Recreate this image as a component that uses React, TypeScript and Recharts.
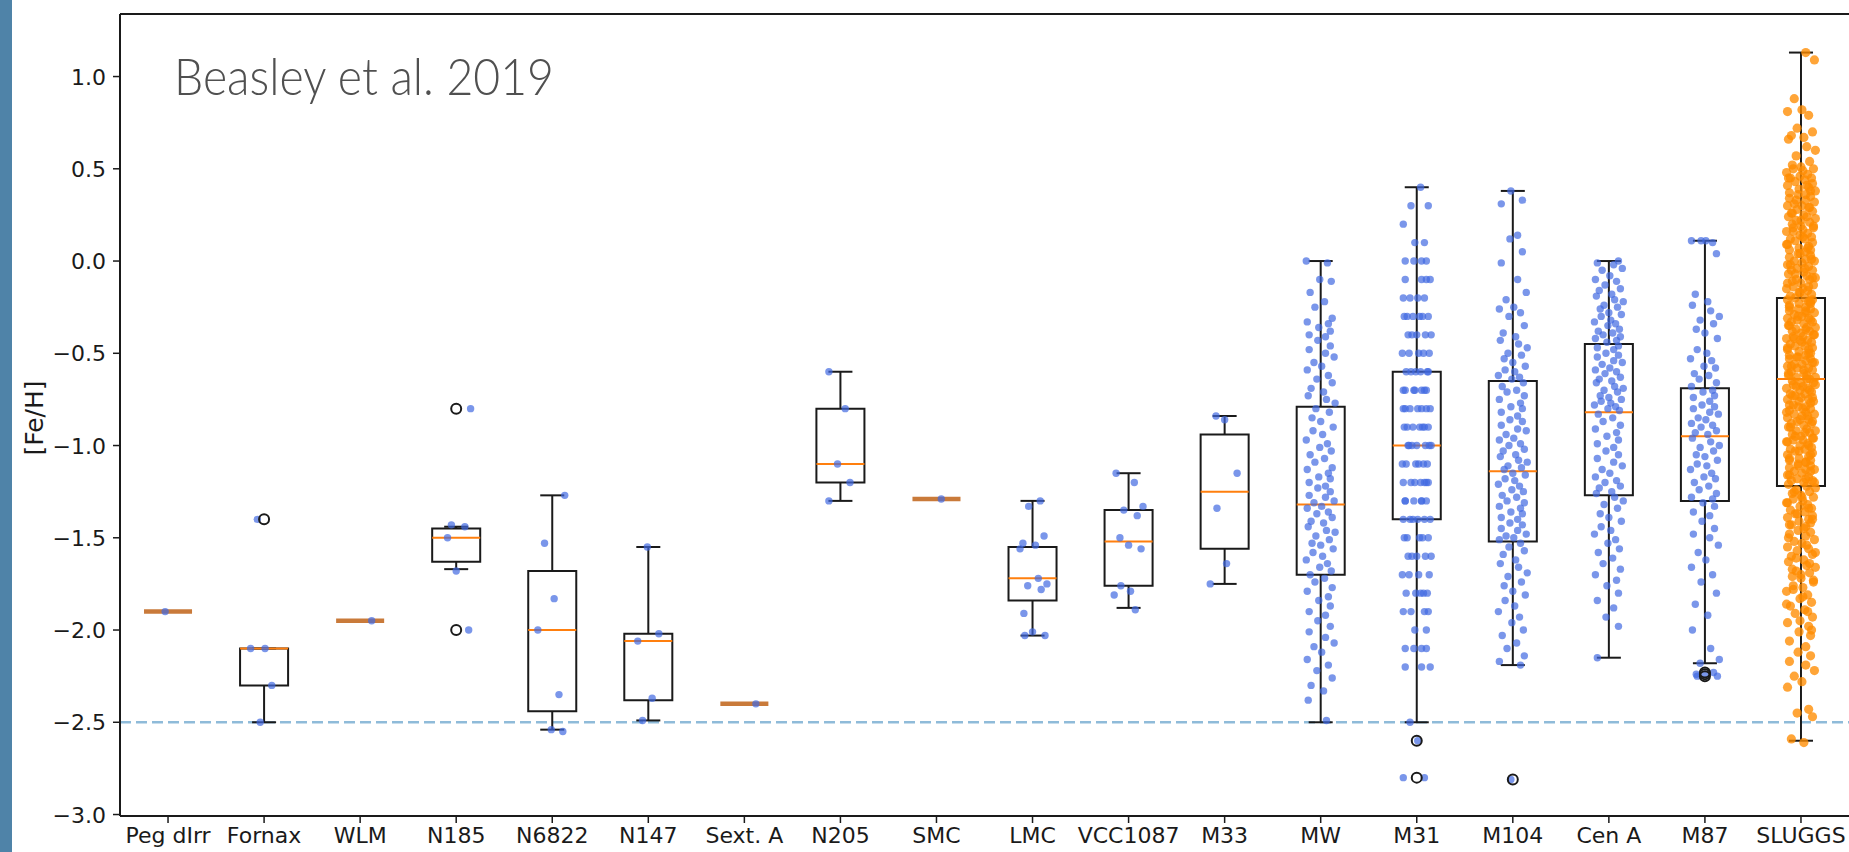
import React from "react";
import {
  ComposedChart,
  Scatter,
  XAxis,
  YAxis,
  ReferenceLine,
  ReferenceArea,
} from "recharts";

const CATEGORIES = [
  "Peg dIrr", "Fornax", "WLM", "N185", "N6822", "N147", "Sext. A", "N205", "SMC",
  "LMC", "VCC1087", "M33", "MW", "M31", "M104", "Cen A", "M87", "SLUGGS",
];
const POSITIONS = CATEGORIES.map((_, i) => i + 1);

const Y_MIN = -3.008;
const Y_MAX = 1.339;
const Y_TICKS = [-3.0, -2.5, -2.0, -1.5, -1.0, -0.5, 0.0, 0.5, 1.0];
const METAL_POOR_LIMIT = -2.5;

// box statistics per system
const WHISKER_LO = [-1.9, -2.5, -1.95, -1.67, -2.54, -2.49, -2.4, -1.3, -1.29, -2.03, -1.88, -1.75, -2.5, -2.5, -2.19, -2.15, -2.18, -2.6];
const Q1 = [-1.9, -2.3, -1.95, -1.63, -2.44, -2.38, -2.4, -1.2, -1.29, -1.84, -1.76, -1.56, -1.7, -1.4, -1.52, -1.27, -1.3, -1.22];
const MEDIAN = [-1.9, -2.1, -1.95, -1.5, -2.0, -2.06, -2.4, -1.1, -1.29, -1.72, -1.52, -1.25, -1.32, -1.0, -1.14, -0.82, -0.95, -0.64];
const Q3 = [-1.9, -2.1, -1.95, -1.45, -1.68, -2.02, -2.4, -0.8, -1.29, -1.55, -1.35, -0.94, -0.79, -0.6, -0.65, -0.45, -0.69, -0.2];
const WHISKER_HI = [-1.9, -2.1, -1.95, -1.44, -1.27, -1.55, -2.4, -0.6, -1.29, -1.3, -1.15, -0.84, 0.0, 0.4, 0.38, 0.0, 0.11, 1.13];

// fliers
const OUTLIER_CAT = ["Fornax", "N185", "N185", "M31", "M31", "M104", "M87", "M87", "M87"];
const OUTLIER_VAL = [-1.4, -0.8, -2.0, -2.6, -2.8, -2.81, -2.23, -2.24, -2.25];

// individual cluster metallicities
const PEG_DIRR = [-1.9];
const FORNAX = [-1.4, -2.1, -2.1, -2.3, -2.5];
const WLM = [-1.95];
const N185 = [-0.8, -1.43, -1.44, -1.5, -1.68, -2.0];
const N6822 = [-1.27, -1.53, -1.83, -2.0, -2.35, -2.54, -2.55];
const N147 = [-1.55, -2.02, -2.06, -2.37, -2.49];
const SEXT_A = [-2.4];
const N205 = [-0.6, -0.8, -1.1, -1.2, -1.3];
const SMC = [-1.29];
const LMC = [-1.3, -1.33, -1.49, -1.53, -1.54, -1.56, -1.72, -1.75, -1.76, -1.78, -1.91, -2.01, -2.03, -2.03];
const VCC1087 = [-1.15, -1.2, -1.33, -1.35, -1.38, -1.5, -1.54, -1.56, -1.76, -1.79, -1.81, -1.89];
const M33 = [-0.84, -0.86, -1.15, -1.34, -1.64, -1.75];

const MW = [
  0.0, -0.01, -0.1, -0.11, -0.17, -0.22, -0.25, -0.31, -0.33, -0.34, -0.36, -0.38, -0.4, -0.41, -0.43,
  -0.46, -0.48, -0.5, -0.52, -0.55, -0.57, -0.59, -0.62, -0.64, -0.66, -0.69, -0.71, -0.73, -0.75, -0.77,
  -0.8, -0.82, -0.85, -0.87, -0.9, -0.92, -0.94, -0.97, -0.99, -1.01, -1.03, -1.05, -1.07, -1.09, -1.12,
  -1.13, -1.15, -1.17, -1.18, -1.2, -1.22, -1.23, -1.25, -1.27, -1.28, -1.3, -1.31, -1.33, -1.34,
  -1.36, -1.37, -1.39, -1.41, -1.42, -1.44, -1.46, -1.47, -1.49, -1.51, -1.53, -1.54, -1.56, -1.58,
  -1.6, -1.62, -1.64, -1.66, -1.68, -1.7, -1.72, -1.74, -1.77, -1.79, -1.82, -1.84, -1.87, -1.9,
  -1.92, -1.95, -1.98, -2.01, -2.04, -2.07, -2.09, -2.12, -2.16, -2.19, -2.22, -2.26, -2.3, -2.33,
  -2.38, -2.49,
];

// M31 values are quoted in 0.1 dex steps
const M31_LEVELS = [0.4, 0.3, 0.2, 0.1, 0.0, -0.1, -0.2, -0.3, -0.4, -0.5, -0.6, -0.7, -0.8, -0.9, -1.0, -1.1, -1.2, -1.3, -1.4, -1.5, -1.6, -1.7, -1.8, -1.9, -2.0, -2.1, -2.2, -2.5, -2.6, -2.8];
const M31_COUNTS = [1, 2, 1, 2, 4, 4, 4, 6, 5, 5, 6, 7, 7, 7, 7, 6, 7, 6, 6, 5, 5, 4, 5, 4, 2, 4, 3, 1, 1, 2];
const M31 = M31_LEVELS.flatMap((v, i) => Array(M31_COUNTS[i]).fill(v));

const M104 = [
  0.38, 0.33, 0.31, 0.14, 0.12, 0.05, -0.01, -0.1, -0.17, -0.21, -0.25, -0.26, -0.28, -0.3, -0.35,
  -0.39, -0.41, -0.43, -0.45, -0.47, -0.5, -0.51, -0.53, -0.55, -0.57, -0.59, -0.6, -0.62, -0.63, -0.64,
  -0.66, -0.68, -0.7, -0.71, -0.73, -0.75, -0.77, -0.79, -0.8, -0.82, -0.84, -0.86, -0.87, -0.89, -0.91,
  -0.92, -0.94, -0.96, -0.97, -0.99, -1.0, -1.02, -1.03, -1.05, -1.06, -1.08, -1.09, -1.11, -1.12, -1.13,
  -1.15, -1.16, -1.18, -1.19, -1.21, -1.22, -1.24, -1.25, -1.27, -1.28, -1.3, -1.31, -1.33, -1.34, -1.36,
  -1.37, -1.39, -1.4, -1.42, -1.43, -1.45, -1.46, -1.48, -1.49, -1.5, -1.51,
  -1.53, -1.55, -1.57, -1.59, -1.62, -1.64, -1.66, -1.69, -1.71, -1.74, -1.76, -1.79, -1.81, -1.84,
  -1.87, -1.9, -1.93, -1.96, -2.0, -2.03, -2.07, -2.1, -2.14, -2.17, -2.19, -2.81,
];

const CEN_A = [
  0.0, -0.01, -0.02, -0.04, -0.05, -0.08, -0.1, -0.11, -0.13, -0.15, -0.16, -0.18, -0.19, -0.21, -0.22,
  -0.24, -0.25, -0.26, -0.28, -0.29, -0.3, -0.32, -0.33, -0.34, -0.35, -0.37, -0.38, -0.39, -0.4, -0.41,
  -0.42, -0.43, -0.44,
  -0.46, -0.47, -0.48, -0.5, -0.51, -0.52, -0.54, -0.55, -0.56, -0.58, -0.59, -0.6, -0.61, -0.63, -0.64,
  -0.65, -0.66, -0.68, -0.69, -0.7, -0.71, -0.73, -0.74, -0.75, -0.76, -0.77, -0.78, -0.79, -0.8, -0.81,
  -0.83, -0.85, -0.87, -0.89, -0.91, -0.93, -0.95, -0.97, -0.99, -1.01, -1.03, -1.05, -1.07, -1.09,
  -1.11, -1.13, -1.15, -1.17, -1.19, -1.2, -1.22, -1.23, -1.25, -1.26,
  -1.28, -1.3, -1.32, -1.34, -1.37, -1.39, -1.41, -1.44, -1.46, -1.48, -1.51, -1.53, -1.56, -1.58,
  -1.61, -1.64, -1.67, -1.7, -1.73, -1.76, -1.8, -1.84, -1.88, -1.93, -1.98, -2.15,
];

const M87 = [
  0.11, 0.11, 0.1, 0.11, 0.04, -0.18, -0.22, -0.24, -0.27, -0.3, -0.32, -0.34, -0.37, -0.39, -0.42,
  -0.48, -0.5, -0.53, -0.54, -0.57, -0.58, -0.61, -0.62, -0.64, -0.66, -0.68,
  -0.7, -0.71, -0.73, -0.74, -0.76, -0.78, -0.79, -0.8, -0.82, -0.83, -0.85, -0.86, -0.88, -0.89,
  -0.9, -0.92, -0.93, -0.94,
  -0.96, -0.98, -1.0, -1.01, -1.03, -1.05, -1.06, -1.08, -1.1, -1.11, -1.13, -1.15, -1.17, -1.18,
  -1.2, -1.22, -1.24, -1.26, -1.28, -1.29,
  -1.31, -1.33, -1.36, -1.38, -1.41, -1.45, -1.48, -1.5, -1.54, -1.58, -1.62, -1.66, -1.7, -1.74,
  -1.8, -1.86, -1.92, -2.0, -2.1, -2.16, -2.18, -2.23, -2.24, -2.24, -2.25, -2.25,
];

const SLUGGS = [
  1.13, 1.09, 0.88, 0.82, 0.81, 0.79, 0.72, 0.7, 0.68, 0.67, 0.66, 0.62, 0.6, 0.57, 0.54, 0.52, 0.51, 0.5, 0.5, 0.49,
  0.48, 0.47, 0.46, 0.45, 0.45, 0.44, 0.43, 0.42, 0.41, 0.4, 0.39, 0.38, 0.37, 0.36, 0.36, 0.35, 0.34, 0.33, 0.32, 0.31,
  0.3, 0.3, 0.29, 0.28, 0.27, 0.26, 0.25, 0.24, 0.24, 0.23, 0.22, 0.21, 0.2, 0.19, 0.18, 0.18, 0.17, 0.16, 0.15, 0.14,
  0.13, 0.12, 0.12, 0.11, 0.1, 0.09, 0.08, 0.07, 0.06, 0.06, 0.05, 0.04, 0.03, 0.02, 0.01, 0.0, 0.0, -0.01, -0.02, -0.03,
  -0.04, -0.05, -0.05, -0.06, -0.07, -0.08, -0.09, -0.1, -0.1, -0.11, -0.12, -0.13, -0.14, -0.15, -0.15, -0.16, -0.17, -0.18, -0.19, -0.2,
  -0.2, -0.21, -0.21, -0.22, -0.23, -0.23, -0.24, -0.25, -0.26, -0.26, -0.27, -0.28, -0.28, -0.29, -0.3, -0.31, -0.31, -0.32, -0.33, -0.33,
  -0.34, -0.35, -0.36, -0.36, -0.37, -0.38, -0.38, -0.39, -0.4, -0.41, -0.41, -0.42, -0.43, -0.43, -0.44, -0.45, -0.46, -0.46, -0.47, -0.48,
  -0.48, -0.49, -0.5, -0.51, -0.51, -0.52, -0.53, -0.53, -0.54, -0.55, -0.56, -0.56, -0.57, -0.58, -0.58, -0.59, -0.6, -0.61, -0.61, -0.62,
  -0.63, -0.63, -0.64, -0.65, -0.66, -0.66, -0.67, -0.68, -0.69, -0.69, -0.7, -0.71, -0.72, -0.72, -0.73, -0.74, -0.75, -0.75, -0.76, -0.77,
  -0.78, -0.79, -0.79, -0.8, -0.81, -0.82, -0.83, -0.83, -0.84, -0.85, -0.86, -0.87, -0.87, -0.88, -0.89, -0.9, -0.91, -0.92, -0.92, -0.93,
  -0.94, -0.95, -0.96, -0.97, -0.97, -0.98, -0.99, -1.0, -1.01, -1.02, -1.02, -1.03, -1.04, -1.05, -1.06, -1.07, -1.08, -1.08, -1.09, -1.1,
  -1.11, -1.12, -1.13, -1.13, -1.14, -1.15, -1.16, -1.17, -1.18, -1.19, -1.19, -1.2, -1.21, -1.22,
  -1.23, -1.24, -1.25, -1.26, -1.27, -1.28, -1.29, -1.3, -1.31, -1.32, -1.33, -1.34, -1.35, -1.36, -1.37, -1.38, -1.39, -1.4, -1.41, -1.42,
  -1.43, -1.44, -1.46, -1.47, -1.48, -1.49, -1.51, -1.52, -1.53, -1.55, -1.56, -1.57, -1.59, -1.6, -1.62, -1.63, -1.65, -1.66, -1.68, -1.69,
  -1.71, -1.72, -1.74, -1.76, -1.77, -1.79, -1.81, -1.83, -1.85, -1.87, -1.89, -1.91, -1.93, -1.96, -1.98, -2.01, -2.03, -2.06, -2.09, -2.12,
  -2.14, -2.17, -2.19, -2.22, -2.25, -2.28, -2.31, -2.43, -2.45, -2.47, -2.59, -2.61,
  0.45, 0.41, 0.38, 0.33, 0.29, 0.26, 0.22, 0.19, 0.16, 0.13, 0.09, 0.07, 0.04, 0.01, -0.02, -0.04, -0.07, -0.09, -0.12, -0.14,
  -0.17, -0.22, -0.25, -0.27, -0.3, -0.32, -0.35, -0.37, -0.4, -0.42, -0.44, -0.47, -0.5, -0.52, -0.55, -0.57, -0.59, -0.62, -0.64, -0.67,
  -0.68, -0.7, -0.73, -0.74, -0.76, -0.78, -0.8, -0.82, -0.84, -0.86, -0.88, -0.9, -0.93, -0.95, -0.96, -0.98, -1.0, -1.03, -1.05, -1.07,
  -1.09, -1.11, -1.14, -1.16, -1.18, -1.2, -1.25, -1.28, -1.31, -1.34, -1.37, -1.4, -1.43, -1.45, -1.5, -1.54, -1.58, -1.61, -1.64, -1.67,
  -1.7, -1.73, -1.78, -1.82, -1.86, -1.9, -1.95, -2.0,
];

const SAMPLES = [PEG_DIRR, FORNAX, WLM, N185, N6822, N147, SEXT_A, N205, SMC, LMC, VCC1087, M33, MW, M31, M104, CEN_A, M87];

// horizontal strip-plot offsets, in category units
const JITTER = [
  -0.03, 0.1, -0.12, 0.05, 0.14, -0.07, 0.01, -0.14, 0.08, -0.04, 0.12, -0.1, 0.03, -0.13, 0.06, 0.15, -0.05, 0.09,
  -0.09, 0.0, 0.13, -0.08, 0.02, -0.15, 0.07, -0.01, 0.11, -0.11, 0.04, -0.06, 0.12, -0.14, 0.08, -0.02, 0.1, -0.12, 0.05,
];

const spread = (values: number[], pos: number, start: number) =>
  values.map((y, k) => ({ x: pos + JITTER[(k + start) % JITTER.length], y }));

const blueData = SAMPLES.flatMap((vals, i) => spread(vals, i + 1, i * 5));
const orangeData = spread(SLUGGS, 18, 3);
const outlierData = OUTLIER_CAT.map((c, k) => ({ x: CATEGORIES.indexOf(c) + 1, y: OUTLIER_VAL[k] }));

const INK = "#1a1a1a";
const FONT = "DejaVu Sans";
const BOX_HALF = 0.25;
const CAP_HALF = 0.125;

const BlueDot = (p: any) => (
  <circle cx={p.cx} cy={p.cy} r={3.7} fill="#4169e1" fillOpacity={0.7} />
);
const OrangeDot = (p: any) => (
  <circle cx={p.cx} cy={p.cy} r={4.6} fill="#ff8c00" fillOpacity={0.78} />
);
const Flier = (p: any) => (
  <circle cx={p.cx} cy={p.cy} r={5} fill="none" stroke={INK} strokeWidth={2} />
);

const CategoryTick = ({ x, y, payload }: any) => (
  <text x={x} y={y} dy={18} textAnchor="middle" fontFamily={FONT} fontSize={22} fill={INK}>
    {CATEGORIES[payload.value - 1]}
  </text>
);
const ValueTick = ({ x, y, payload }: any) => (
  <text x={x} y={y} dy={8} textAnchor="end" fontFamily={FONT} fontSize={22} fill={INK}>
    {payload.value.toFixed(1).replace("-", "\u2212")}
  </text>
);

function renderBoxes() {
  const out: React.ReactNode[] = [];
  POSITIONS.forEach((pos, i) => {
    const flat = Q1[i] === Q3[i];
    if (!flat) {
      out.push(
        <ReferenceArea key={`box-${i}`} x1={pos - BOX_HALF} x2={pos + BOX_HALF} y1={Q1[i]} y2={Q3[i]}
          fill="none" fillOpacity={0} stroke={INK} strokeWidth={2} />
      );
    }
    if (WHISKER_LO[i] < Q1[i]) {
      out.push(
        <ReferenceLine key={`wlo-${i}`} segment={[{ x: pos, y: WHISKER_LO[i] }, { x: pos, y: Q1[i] }]}
          stroke={INK} strokeWidth={2} />
      );
    }
    if (WHISKER_HI[i] > Q3[i]) {
      out.push(
        <ReferenceLine key={`whi-${i}`} segment={[{ x: pos, y: Q3[i] }, { x: pos, y: WHISKER_HI[i] }]}
          stroke={INK} strokeWidth={2} />
      );
    }
    [WHISKER_LO[i], WHISKER_HI[i]].forEach((w, j) => {
      out.push(
        <ReferenceLine key={`cap-${i}-${j}`} segment={[{ x: pos - CAP_HALF, y: w }, { x: pos + CAP_HALF, y: w }]}
          stroke={INK} strokeWidth={2} />
      );
    });
    out.push(
      <ReferenceLine key={`med-${i}`} segment={[{ x: pos - BOX_HALF, y: MEDIAN[i] }, { x: pos + BOX_HALF, y: MEDIAN[i] }]}
        stroke={flat ? "#c97a3a" : "#ff7f0e"} strokeWidth={flat ? 4.5 : 2} />
    );
  });
  return out;
}

export default function App() {
  return (
    <div style={{ position: "absolute", left: 0, top: 0, width: 1849, height: 852, background: "#fff", overflow: "hidden" }}>
      <div style={{ position: "absolute", left: 0, top: 0, width: 12, height: 852, background: "#4f83a8" }} />
      <ComposedChart width={1849} height={852} margin={{ top: 14, right: 0, bottom: 0, left: 0 }}>
        <XAxis
          type="number"
          dataKey="x"
          domain={[0.5, 18.5]}
          allowDataOverflow
          ticks={POSITIONS}
          interval={0}
          height={36}
          tickSize={7}
          tickMargin={2}
          tick={<CategoryTick />}
          axisLine={{ stroke: INK, strokeWidth: 2 }}
          tickLine={{ stroke: INK, strokeWidth: 1.5 }}
        />
        <YAxis
          type="number"
          dataKey="y"
          domain={[Y_MIN, Y_MAX]}
          allowDataOverflow
          ticks={Y_TICKS}
          interval={0}
          width={120}
          tickSize={7}
          tickMargin={7}
          tick={<ValueTick />}
          axisLine={{ stroke: INK, strokeWidth: 2 }}
          tickLine={{ stroke: INK, strokeWidth: 1.5 }}
        />
        <Scatter data={blueData} shape={BlueDot} isAnimationActive={false} />
        <Scatter data={orangeData} shape={OrangeDot} isAnimationActive={false} />
        <ReferenceLine y={METAL_POOR_LIMIT} stroke="#8fbbd9" strokeWidth={2.5} strokeDasharray="11 5" />
        {renderBoxes()}
        <Scatter data={outlierData} shape={Flier} isAnimationActive={false} />
        <ReferenceLine y={Y_MAX} stroke={INK} strokeWidth={2} />
      </ComposedChart>
      <svg width={1849} height={852} style={{ position: "absolute", left: 0, top: 0, pointerEvents: "none" }}>
        <text x={174} y={95} fontFamily="Lato" fontWeight={300} fontSize={51} fill="#505050"
          textLength={380} lengthAdjust="spacingAndGlyphs">
          Beasley et al. 2019
        </text>
        <text x={34} y={418} transform="rotate(-90 34 418)" textAnchor="middle" dominantBaseline="central"
          fontFamily={FONT} fontSize={25} fill={INK}>
          [Fe/H]
        </text>
      </svg>
    </div>
  );
}
